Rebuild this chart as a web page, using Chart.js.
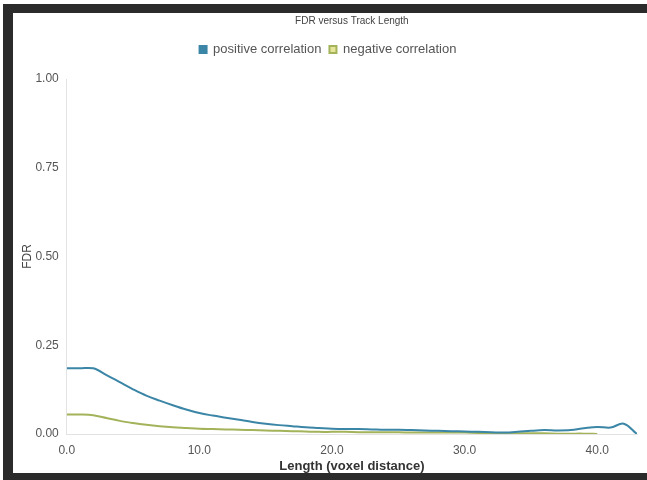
<!DOCTYPE html>
<html>
<head>
<meta charset="utf-8">
<script src="https://cdn.jsdelivr.net/npm/chart.js@4.4.0/dist/chart.umd.min.js"></script>
<style>
  html, body { margin: 0; padding: 0; background: #fff; }
  #frame {
    position: absolute; left: 3px; top: 4px; width: 635px; height: 460px;
    border-left: 10px solid #2b2b2b; border-top: 9px solid #2b2b2b; border-bottom: 7px solid #2b2b2b;
    background: #fff;
  }
  #wrap { position: absolute; left: 0; top: 0; width: 634px; height: 460px; }
</style>
</head>
<body>
<div id="frame"><div id="wrap"><canvas id="fdrChart"></canvas></div></div>
<script>
// track length (voxel distance)
const lengths = [0,1,2,3,4,5,6,7,8,9,10,11,12,13,14,15,16,17,18,19,20,21,22,23,24,25,26,27,28,29,30,31,32,33,34,35,36,37,38,39,40,41,42,43];
const positiveFdr = [0.185,0.185,0.185,0.166,0.146,0.126,0.108,0.094,0.081,0.069,0.059,0.052,0.046,0.040,0.034,0.029,0.025,0.022,0.019,0.017,0.015,0.014,0.014,0.013,0.012,0.012,0.011,0.010,0.009,0.008,0.007,0.006,0.005,0.004,0.006,0.009,0.011,0.010,0.011,0.016,0.020,0.018,0.029,0.000];
const negativeFdr = [0.055,0.055,0.053,0.045,0.037,0.031,0.026,0.022,0.019,0.017,0.015,0.014,0.013,0.012,0.011,0.010,0.009,0.008,0.007,0.006,0.006,0.006,0.005,0.005,0.005,0.005,0.004,0.004,0.004,0.004,0.004,0.003,0.003,0.003,0.002,0.002,0.002,0.001,0.001,0.001,0.000];
const xTicks = [0, 10, 20, 30, 40];

const toPoints = (ys) => ys.map((y, i) => ({ x: lengths[i], y: y }));

// give the legend some extra room underneath, like the original
const legendGap = {
  id: 'legendGap',
  beforeInit(chart) {
    const fit = chart.legend.fit;
    chart.legend.fit = function () {
      fit.call(this);
      this.height += 13;
    };
  }
};

const ctx = document.getElementById('fdrChart').getContext('2d');
new Chart(ctx, {
  type: 'line',
  data: {
    datasets: [
      {
        label: 'positive correlation',
        data: toPoints(positiveFdr),
        borderColor: '#3b86a6',
        backgroundColor: '#3b86a6',
        borderWidth: 2,
        pointRadius: 0,
        tension: 0.35,
        fill: false
      },
      {
        label: 'negative correlation',
        data: toPoints(negativeFdr),
        borderColor: '#a3b35a',
        backgroundColor: '#e6e59a',
        borderWidth: 2,
        pointRadius: 0,
        tension: 0.35,
        fill: false
      }
    ]
  },
  plugins: [legendGap],
  options: {
    responsive: true,
    maintainAspectRatio: false,
    animation: false,
    layout: { padding: { left: 6, right: 10, top: 0, bottom: -1 } },
    plugins: {
      title: {
        display: true,
        text: 'FDR versus Track Length',
        color: '#444',
        fullSize: false,
        font: { family: 'Liberation Sans', size: 10, weight: 'normal' },
        padding: { top: 2, bottom: 8 }
      },
      legend: {
        labels: {
          boxWidth: 7, boxHeight: 7, color: '#555', padding: 8,
          font: { family: 'Liberation Sans', size: 13 }
        }
      },
      tooltip: { enabled: false }
    },
    scales: {
      x: {
        type: 'linear',
        min: 0,
        max: 43,
        afterBuildTicks: (axis) => { axis.ticks = xTicks.map(v => ({ value: v })); },
        grid: { display: false },
        border: { display: true, color: '#e2e2e2' },
        ticks: {
          color: '#555', font: { family: 'Liberation Sans', size: 12 },
          callback: (v) => Number(v).toFixed(1), maxRotation: 0, padding: 1
        },
        title: {
          display: true, text: 'Length (voxel distance)', color: '#333',
          font: { family: 'Liberation Sans', size: 13, weight: 'bold' }, padding: { top: 0, bottom: 0 }
        }
      },
      y: {
        min: 0,
        max: 1,
        grid: { display: false },
        border: { display: true, color: '#e2e2e2' },
        ticks: {
          stepSize: 0.25, color: '#555', font: { family: 'Liberation Sans', size: 12 }, padding: 0,
          callback: (v) => Number(v).toFixed(2)
        },
        title: {
          display: true, text: 'FDR', color: '#444', padding: { top: 1, bottom: 1 },
          font: { family: 'Liberation Sans', size: 12 }
        }
      }
    }
  }
});
</script>
</body>
</html>
